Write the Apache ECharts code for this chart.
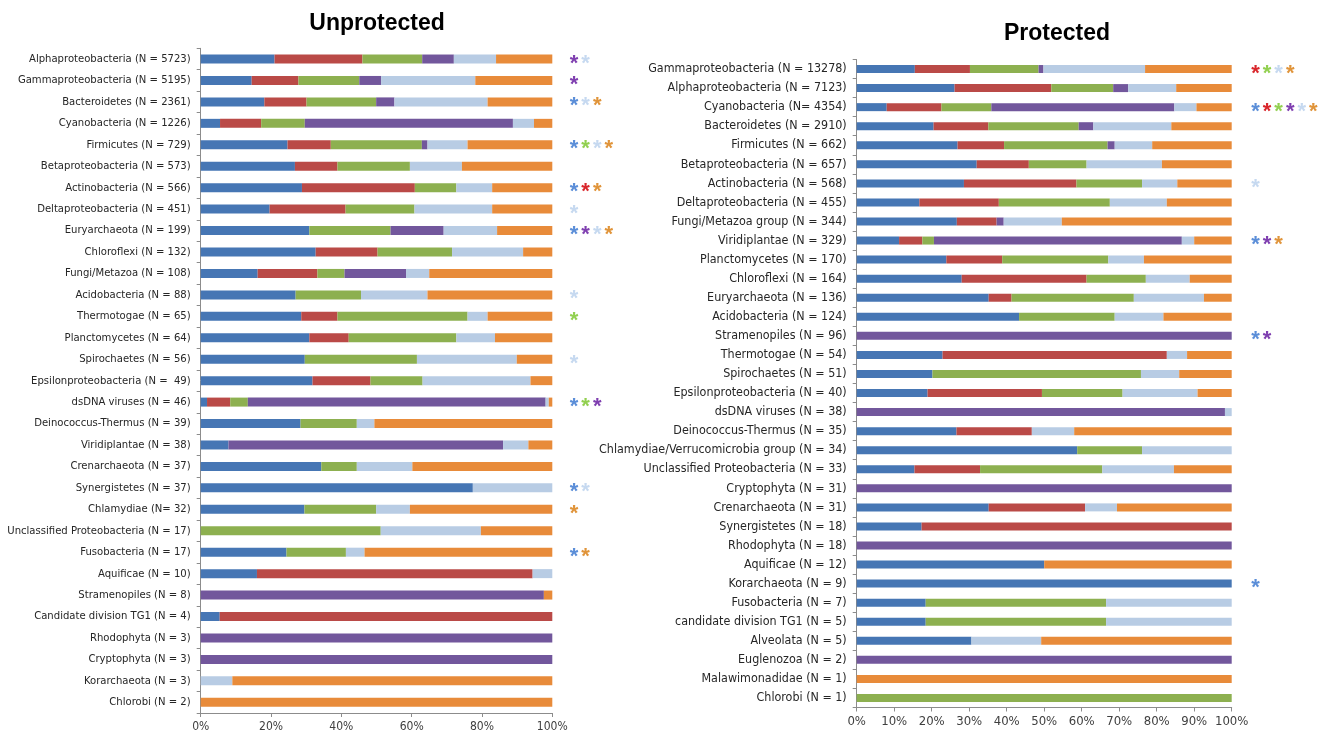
<!DOCTYPE html>
<html>
<head>
<meta charset="utf-8">
<script src="https://cdn.jsdelivr.net/npm/echarts@6/dist/echarts.min.js"></script>
<style>
  html, body { margin: 0; padding: 0; background: #fff; }
  #chart-container { width: 1331px; height: 739px; }
</style>
</head>
<body>
<div id="chart-container"></div>
<script>
// unprotected panel
var unprotCats = [
  "Alphaproteobacteria (N = 5723)", "Gammaproteobacteria (N = 5195)", "Bacteroidetes (N = 2361)",
  "Cyanobacteria (N = 1226)", "Firmicutes (N = 729)", "Betaproteobacteria (N = 573)",
  "Actinobacteria (N = 566)", "Deltaproteobacteria (N = 451)", "Euryarchaeota (N = 199)",
  "Chloroflexi (N = 132)", "Fungi/Metazoa (N = 108)", "Acidobacteria (N = 88)",
  "Thermotogae (N = 65)", "Planctomycetes (N = 64)", "Spirochaetes (N = 56)",
  "Epsilonproteobacteria (N =  49)", "dsDNA viruses (N = 46)", "Deinococcus-Thermus (N = 39)",
  "Viridiplantae (N = 38)", "Crenarchaeota (N = 37)", "Synergistetes (N = 37)",
  "Chlamydiae (N= 32)", "Unclassified Proteobacteria (N = 17)", "Fusobacteria (N = 17)",
  "Aquificae (N = 10)", "Stramenopiles (N = 8)", "Candidate division TG1 (N = 4)",
  "Rhodophyta (N = 3)", "Cryptophyta (N = 3)", "Korarchaeota (N = 3)", "Chlorobi (N = 2)"
];
var unprotBlue   = [21, 14.5, 18.1, 5.5, 24.7, 26.8, 28.8, 19.6, 30.9, 32.7, 16.2, 27.0, 28.6, 30.9, 29.6, 31.8, 1.8, 28.4, 7.9, 34.3, 77.4, 29.5, 0, 24.4, 16.0, 0, 5.4, 0, 0, 0, 0];
var unprotRed    = [25, 13.3, 12.0, 11.7, 12.3, 12.1, 32.1, 21.6, 0, 17.6, 17.0, 0, 10.3, 11.2, 0, 16.5, 6.6, 0, 0, 0, 0, 0, 0, 0, 78.4, 0, 94.6, 0, 0, 0, 0];
var unprotGreen  = [17, 17.3, 19.8, 12.4, 25.9, 20.6, 11.8, 19.6, 23.1, 21.2, 7.7, 18.6, 37.0, 30.6, 31.9, 14.8, 5.0, 16.0, 0, 10.1, 0, 20.4, 51.2, 16.9, 0, 0, 0, 0, 0, 0, 0];
var unprotPurple = [9, 6.2, 5.2, 59.2, 1.6, 0, 0, 0, 15.1, 0, 17.5, 0, 0, 0, 0, 0, 84.7, 0, 78.1, 0, 0, 0, 0, 0, 0, 97.6, 0, 100, 100, 0, 0];
var unprotLight  = [12, 26.8, 26.5, 6.0, 11.4, 14.8, 10.2, 22.1, 15.2, 20.2, 6.6, 18.9, 5.7, 11.0, 28.4, 30.7, 0.9, 5.0, 7.2, 15.8, 22.6, 9.6, 28.5, 5.3, 5.6, 0, 0, 0, 0, 9.0, 0];
var unprotOrange = [16, 21.9, 18.4, 5.2, 24.1, 25.7, 17.1, 17.1, 15.7, 8.3, 35.0, 35.5, 18.4, 16.3, 10.1, 6.2, 1.0, 50.6, 6.8, 39.8, 0, 40.5, 20.3, 53.4, 0, 2.4, 0, 0, 0, 91.0, 100];
var unprotStars  = ["pl", "p", "blo", "", "bglo", "", "bro", "l", "bplo", "", "", "l", "g", "", "l", "", "bgp", "", "", "", "bl", "o", "", "bo", "", "", "", "", "", "", ""];

// protected panel
var protCats = [
  "Gammaproteobacteria (N = 13278)", "Alphaproteobacteria (N = 7123)", "Cyanobacteria (N= 4354)",
  "Bacteroidetes (N = 2910)", "Firmicutes (N = 662)", "Betaproteobacteria (N = 657)",
  "Actinobacteria (N = 568)", "Deltaproteobacteria (N = 455)", "Fungi/Metazoa group (N = 344)",
  "Viridiplantae (N = 329)", "Planctomycetes (N = 170)", "Chloroflexi (N = 164)",
  "Euryarchaeota (N = 136)", "Acidobacteria (N = 124)", "Stramenopiles (N = 96)",
  "Thermotogae (N = 54)", "Spirochaetes (N = 51)", "Epsilonproteobacteria (N = 40)",
  "dsDNA viruses (N = 38)", "Deinococcus-Thermus (N = 35)", "Chlamydiae/Verrucomicrobia group (N = 34)",
  "Unclassified Proteobacteria (N = 33)", "Cryptophyta (N = 31)", "Crenarchaeota (N = 31)",
  "Synergistetes (N = 18)", "Rhodophyta (N = 18)", "Aquificae (N = 12)", "Korarchaeota (N = 9)",
  "Fusobacteria (N = 7)", "candidate division TG1 (N = 5)", "Alveolata (N = 5)",
  "Euglenozoa (N = 2)", "Malawimonadidae (N = 1)", "Chlorobi (N = 1)"
];
var protBlue   = [15.5, 26.1, 8.0, 20.5, 26.9, 32.0, 28.6, 16.7, 26.7, 11.3, 23.9, 28.0, 35.2, 43.3, 0, 22.9, 20.2, 18.9, 0, 26.6, 58.8, 15.4, 0, 35.2, 17.3, 0, 50, 100, 18.4, 18.4, 30.6, 0, 0, 0];
var protRed    = [14.7, 25.8, 14.6, 14.6, 12.4, 13.9, 30.0, 21.2, 10.6, 6.2, 14.9, 33.3, 6.1, 0, 0, 59.8, 0, 30.5, 0, 20.1, 0, 17.5, 0, 25.7, 82.7, 0, 0, 0, 0, 0, 0, 0, 0, 0];
var protGreen  = [18.3, 16.5, 13.3, 24.1, 27.6, 15.4, 17.5, 29.6, 0, 3.1, 28.3, 15.8, 32.6, 25.5, 0, 0, 55.6, 21.5, 0, 0, 17.3, 32.6, 0, 0, 0, 0, 0, 0, 48.1, 48.1, 0, 0, 0, 100];
var protPurple = [1.3, 4.0, 48.8, 3.9, 1.9, 0, 0, 0, 1.9, 66.1, 0, 0, 0, 0, 100, 0, 0, 0, 98.2, 0, 0, 0, 100, 0, 0, 100, 0, 0, 0, 0, 0, 100, 0, 0];
var protLight  = [27.1, 12.8, 5.9, 20.8, 10.0, 20.1, 9.4, 15.2, 15.5, 3.3, 9.5, 11.7, 18.7, 13.0, 0, 5.4, 10.2, 20.0, 1.8, 11.3, 23.9, 19.1, 0, 8.5, 0, 0, 0, 0, 33.5, 33.5, 18.6, 0, 0, 0];
var protOrange = [23.1, 14.8, 9.4, 16.1, 21.2, 18.6, 14.5, 17.3, 45.3, 10.0, 23.4, 11.2, 7.4, 18.2, 0, 11.9, 14.0, 9.1, 0, 42.0, 0, 15.4, 0, 30.6, 0, 0, 50, 0, 0, 0, 50.8, 0, 100, 0];
var protStars  = ["rglo", "", "brgplo", "", "", "", "l", "", "", "bpo", "", "", "", "", "bp", "", "", "", "", "", "", "", "", "", "", "", "", "b", "", "", "", "", "", ""];

var barColors = ["#4676B4", "#BA4A47", "#8DB050", "#72579C", "#B8CCE4", "#E88B3A"];
var starColors = { b: "#5B8ED8", r: "#D9262B", g: "#92D050", p: "#7F3FB0", l: "#C6D9F0", o: "#E0943A" };

var labelFont = '"Liberation Sans Narrow", "DejaVu Sans Condensed", sans-serif';

var starRich = {};
Object.keys(starColors).forEach(function (k) {
  starRich[k] = {
    color: starColors[k],
    fontSize: 22,
    fontWeight: "bold",
    fontFamily: "Liberation Sans",
    padding: [9, 1.5, 0, 1.5],
  };
});

function starFormatter(stars) {
  return function (value, index) {
    var s = stars[index] || "";
    return s.split("").map(function (k) { return "{" + k + "|*}"; }).join("");
  };
}

function makeSeries(vals, stackName, axisIdx, barW) {
  return vals.map(function (arr, i) {
    return {
      name: "c" + (i + 1),
      type: "bar",
      stack: stackName,
      xAxisIndex: axisIdx,
      yAxisIndex: axisIdx * 2,
      barWidth: barW,
      itemStyle: { color: barColors[i] },
      data: arr,
    };
  });
}

var dom = document.getElementById("chart-container");
var myChart = echarts.init(dom, null, { renderer: "canvas" });

var option = {
  animation: false,
  title: [
    {
      text: "Unprotected",
      left: 372, top: 7, textAlign: "center",
      textStyle: { fontFamily: "Liberation Sans", fontWeight: "bold", fontSize: 23, color: "#000" },
    },
    {
      text: "Protected",
      left: 1052, top: 17, textAlign: "center",
      textStyle: { fontFamily: "Liberation Sans", fontWeight: "bold", fontSize: 23, color: "#000" },
    },
  ],
  grid: [
    { left: 200.7, right: 778.7, top: 48.3, bottom: 26, containLabel: false, outerBoundsMode: "none" },
    { left: 856.7, right: 99.3, top: 59.5, bottom: 31.5, containLabel: false, outerBoundsMode: "none" },
  ],
  xAxis: [0, 1].map(function (g) {
    return {
      type: "value",
      gridIndex: g,
      min: 0,
      max: 100,
      interval: g === 0 ? 20 : 10,
      splitLine: { show: false },
      axisLine: { show: true, lineStyle: { color: "#8c8c8c" } },
      axisTick: { show: true, length: 4, lineStyle: { color: "#8c8c8c" } },
      axisLabel: {
        formatter: "{value}%",
        fontFamily: labelFont,
        fontSize: g === 0 ? 12 : 13,
        color: "#404040",
        margin: 8,
      },
    };
  }),
  yAxis: [
    {
      type: "category", gridIndex: 0, inverse: true, data: unprotCats,
      axisLine: { show: true, lineStyle: { color: "#8c8c8c" } },
      axisTick: { show: true, length: 4, lineStyle: { color: "#8c8c8c" } },
      axisLabel: { interval: 0, fontFamily: labelFont, fontSize: 11.2, color: "#262626", margin: 10 },
    },
    {
      type: "category", gridIndex: 0, inverse: true, position: "right", data: unprotCats,
      axisLine: { show: false }, axisTick: { show: false },
      axisLabel: { interval: 0, margin: 16, align: "left", formatter: starFormatter(unprotStars), rich: starRich },
    },
    {
      type: "category", gridIndex: 1, inverse: true, data: protCats,
      axisLine: { show: true, lineStyle: { color: "#8c8c8c" } },
      axisTick: { show: true, length: 4, lineStyle: { color: "#8c8c8c" } },
      axisLabel: { interval: 0, fontFamily: labelFont, fontSize: 12.4, color: "#262626", margin: 10 },
    },
    {
      type: "category", gridIndex: 1, inverse: true, position: "right", data: protCats,
      axisLine: { show: false }, axisTick: { show: false },
      axisLabel: { interval: 0, margin: 18, align: "left", formatter: starFormatter(protStars), rich: starRich },
    },
  ],
  series: []
    .concat(makeSeries([unprotBlue, unprotRed, unprotGreen, unprotPurple, unprotLight, unprotOrange], "u", 0, 9))
    .concat(makeSeries([protBlue, protRed, protGreen, protPurple, protLight, protOrange], "p", 1, 8)),
};

myChart.setOption(option);
window.addEventListener("resize", myChart.resize);
</script>
</body>
</html>
